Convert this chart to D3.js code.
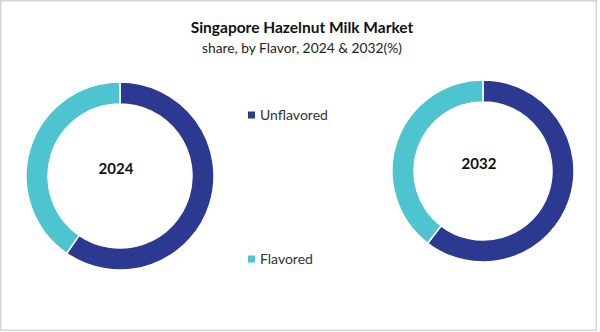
<!DOCTYPE html>
<html><head><meta charset="utf-8">
<script src="https://cdn.jsdelivr.net/npm/d3@7/dist/d3.min.js"></script>
<style>body{margin:0;background:#fff;}svg{display:block;}</style>
</head><body>
<svg id="c" width="600" height="332"></svg>
<script>
const categories = ["Unflavored", "Flavored"];
const years = ["2024", "2032"];
const values2024 = [59.6, 40.4];
const values2032 = [60.4, 39.6];
const colors = ["#2c3991", "#4ec4d0"];

const svg = d3.select("#c");
svg.append("rect").attr("x", 0.75).attr("y", 0.75).attr("width", 595.5).attr("height", 329.5)
  .attr("fill", "#fff").attr("stroke", "#d4d4d4").attr("stroke-width", 1.5);

svg.append("text").attr("x", 302).attr("y", 33).attr("text-anchor", "middle")
  .attr("font-family", "Lato, 'Open Sans', sans-serif").attr("font-weight", "bold")
  .attr("font-size", 15.5).attr("fill", "#111").text("Singapore Hazelnut Milk Market");
svg.append("text").attr("x", 302).attr("y", 53).attr("text-anchor", "middle")
  .attr("font-family", "Lato, 'Open Sans', sans-serif")
  .attr("font-size", 13.8).attr("fill", "#222").text("share, by Flavor, 2024 & 2032(%)");

const color = d3.scaleOrdinal().domain(categories).range(colors);
const pie = d3.pie().sort(null).value(d => d.v);

const donuts = [
  { year: years[0], vals: values2024, cx: 120, cy: 176, r: 94 },
  { year: years[1], vals: values2032, cx: 483, cy: 171, r: 91 }
];

donuts.forEach(dn => {
  const data = categories.map((c, i) => ({ c, v: dn.vals[i] }));
  const arc = d3.arc().innerRadius(dn.r - 22).outerRadius(dn.r);
  const g = svg.append("g").attr("transform", `translate(${dn.cx},${dn.cy})`);
  g.selectAll("path").data(pie(data)).join("path")
    .attr("d", arc).attr("fill", d => color(d.data.c))
    .attr("stroke", "#fff").attr("stroke-width", 1.5);
  g.append("text").attr("x", -4).attr("y", -2).attr("text-anchor", "middle")
    .attr("font-family", "Lato, 'Open Sans', sans-serif").attr("font-weight", "bold")
    .attr("font-size", 15).attr("fill", "#111").text(dn.year);
});

const legendY = [115, 259];
categories.forEach((c, i) => {
  svg.append("rect").attr("x", 248).attr("y", legendY[i] - 3.5).attr("width", 7).attr("height", 7)
    .attr("fill", color(c));
  svg.append("text").attr("x", 260).attr("y", legendY[i] + 5)
    .attr("font-family", "Lato, 'Open Sans', sans-serif")
    .attr("font-size", 14).attr("fill", "#333").text(c);
});
</script>
</body></html>
